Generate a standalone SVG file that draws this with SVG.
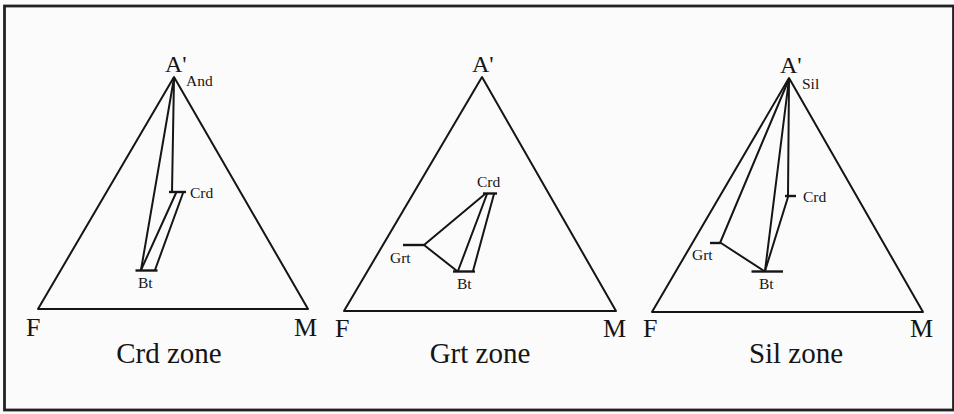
<svg xmlns="http://www.w3.org/2000/svg" width="954" height="414" viewBox="0 0 954 414">
<style>
.ln{stroke:#151515;stroke-width:2;fill:none;stroke-linecap:round;stroke-linejoin:round}
.tk{stroke:#151515;stroke-width:2.4;fill:none}
.big{font-family:"Liberation Serif",serif;font-size:26px;fill:#151515}
.ap{font-family:"Liberation Serif",serif;font-size:24px;fill:#151515}
.zone{font-family:"Liberation Serif",serif;font-size:29px;fill:#151515;text-anchor:middle}
.sm{font-family:"Liberation Serif",serif;font-size:15.5px;fill:#151515}
</style>
<rect x="0" y="0" width="954" height="414" fill="#fbfbfb"/>
<rect x="4.5" y="6" width="949" height="404" fill="none" stroke="#222" stroke-width="2.8"/>
<g id="crd-zone">
<polygon class="ln" points="174,77 38,309 308,309"/>
<text class="ap" x="165" y="72">A'</text>
<text class="big" x="26" y="336">F</text>
<text class="big" x="294" y="336">M</text>
<text class="zone" x="169" y="363">Crd zone</text>
<text class="sm" x="186" y="86">And</text>
<text class="sm" x="190" y="198">Crd</text>
<text class="sm" x="138" y="288">Bt</text>
<line class="tk" x1="169" y1="192" x2="186" y2="192"/>
<line class="tk" x1="135.5" y1="270.5" x2="157.5" y2="270.5"/>
</g>
<g id="grt-zone">
<polygon class="ln" points="482,77 344,311 616,311"/>
<text class="ap" x="472" y="72">A'</text>
<text class="big" x="335" y="337">F</text>
<text class="big" x="603" y="337">M</text>
<text class="zone" x="480" y="363">Grt zone</text>
<text class="sm" x="477" y="187">Crd</text>
<text class="sm" x="390" y="263">Grt</text>
<text class="sm" x="457" y="289">Bt</text>
<line class="tk" x1="483" y1="193.5" x2="497" y2="193.5"/>
<line class="tk" x1="403" y1="245" x2="424" y2="245"/>
<line class="tk" x1="453" y1="271.5" x2="475" y2="271.5"/>
</g>
<g id="sil-zone">
<polygon class="ln" points="789,78 652,312 923,312"/>
<text class="ap" x="780" y="73">A'</text>
<text class="big" x="643" y="337">F</text>
<text class="big" x="910" y="337">M</text>
<text class="zone" x="796" y="363">Sil zone</text>
<text class="sm" x="802" y="89">Sil</text>
<text class="sm" x="803" y="202">Crd</text>
<text class="sm" x="692" y="260">Grt</text>
<text class="sm" x="759" y="289">Bt</text>
<line class="tk" x1="785" y1="196" x2="796" y2="196"/>
<line class="tk" x1="710" y1="243" x2="721" y2="243"/>
<line class="tk" x1="751.5" y1="271.5" x2="783" y2="271.5"/>
</g>
<g id="connectors">
<line class="ln" x1="174" y1="78" x2="141" y2="270"/>
<line class="ln" x1="174" y1="78" x2="172" y2="192"/>
<line class="ln" x1="176" y1="193" x2="141" y2="270"/>
<line class="ln" x1="183" y1="193" x2="155" y2="270"/>
<line class="ln" x1="424" y1="245" x2="485" y2="194"/>
<line class="ln" x1="424" y1="245" x2="457" y2="271"/>
<line class="ln" x1="487" y1="194" x2="458" y2="271"/>
<line class="ln" x1="494" y1="194" x2="473" y2="271"/>
<line class="ln" x1="789" y1="79" x2="720" y2="243"/>
<line class="ln" x1="789" y1="79" x2="765" y2="271"/>
<line class="ln" x1="789" y1="79" x2="788" y2="196"/>
<line class="ln" x1="788" y1="197" x2="765" y2="271"/>
<line class="ln" x1="721" y1="243" x2="764" y2="271"/>
</g>
</svg>
